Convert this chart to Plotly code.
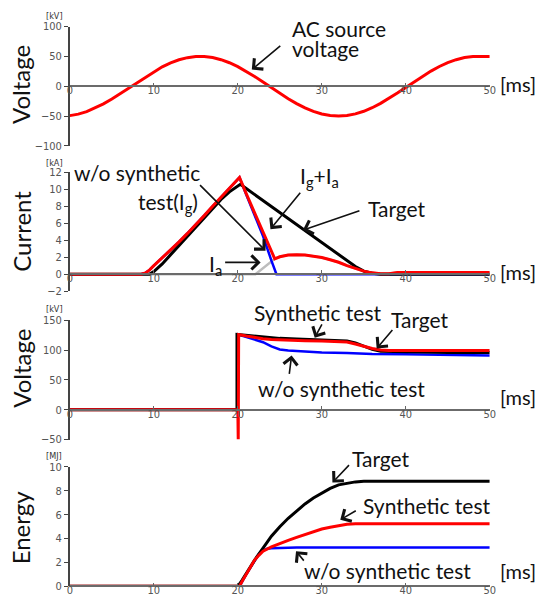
import plotly.graph_objects as go

# ---------------- data ----------------
# AC source voltage [kV] vs time [ms]
t_ac = list(range(0, 51))
v_ac = [-49.2, -46.7, -42.4, -36.6, -29.5, -21.3, -12.3, -2.9, 6.7, 15.9,
        24.6, 32.5, 39.1, 44.3, 47.9, 49.7, 49.8, 48.0, 44.5, 39.4,
        32.9, 25.1, 16.4, 7.1, -2.4, -11.8, -20.8, -29.0, -36.3, -42.1,
        -46.5, -49.1, -50.0, -49.0, -46.3, -41.9, -36.0, -28.7, -20.4, -11.4,
        -2.0, 7.6, 16.8, 25.4, 33.1, 39.6, 44.5, 48.0, 49.8, 50.0, 50.0]

# Arc current [kA]
t_i_target = [0, 9.5, 10, 11, 12, 13, 14, 15, 16, 17, 18, 19, 20, 20.3, 21, 22, 23, 24,
              25, 26, 27, 28, 29, 30, 31, 32, 33, 34, 35, 36, 37, 50]
i_target = [0, 0, 0.3, 1.2, 2.3, 3.4, 4.5, 5.6, 6.7, 7.8, 8.8, 9.7, 10.4, 10.6, 10.1, 9.4,
            8.6, 7.9, 7.2, 6.5, 5.8, 5.1, 4.4, 3.7, 3.0, 2.3, 1.6, 0.9, 0.35, 0.1, 0, 0]

t_i_synth = [0, 8.5, 9, 9.5, 10, 11, 12, 13, 14, 15, 16, 17, 18, 19, 20, 20.2, 21, 22, 23,
             24, 24.4, 25, 26, 27, 28, 29, 30, 31, 32, 33, 34, 35, 36, 37, 38, 39, 50]
i_synth = [0, 0, 0.15, 0.5, 1.0, 1.9, 2.9, 3.8, 4.8, 5.8, 6.9, 8.0, 9.1, 10.2, 11.2, 11.4,
           9.5, 7.2, 4.9, 2.6, 1.8, 2.05, 2.25, 2.3, 2.25, 2.1, 1.95, 1.7, 1.4, 1.0, 0.65,
           0.35, 0.15, 0.05, 0.05, 0.2, 0.2]

t_i_wo = [0, 8.5, 9, 9.5, 10, 11, 12, 13, 14, 15, 16, 17, 18, 19, 20, 20.2, 21, 22, 23,
          24, 24.6, 50]
i_wo = [0, 0, 0.15, 0.5, 1.0, 1.9, 2.9, 3.8, 4.8, 5.8, 6.9, 8.0, 9.1, 10.2, 11.2, 11.4,
        9.4, 7.0, 4.5, 1.6, 0, 0]

t_i_a = [0, 22.1, 24.4, 25, 26, 27, 28, 29, 30, 31, 32, 33, 34, 35, 36, 37, 38, 39, 50]
i_a = [0, 0, 1.8, 2.05, 2.25, 2.3, 2.25, 2.1, 1.95, 1.7, 1.4, 1.0, 0.65, 0.35, 0.15,
       0.05, 0.05, 0.2, 0.2]

# Arc voltage [kV]
t_u_target = [0, 19.9, 19.9, 21, 23, 25, 27, 29, 31, 33, 34, 35, 36, 37, 40, 45, 50]
u_target = [0, 0, 126, 124.5, 121, 119.5, 118.5, 117.5, 116.5, 115, 112, 107, 101, 98,
            97, 96, 96]

t_u_synth = [0, 20.0, 20.05, 20.1, 21, 22, 23, 24, 26, 28, 30, 32, 33, 34, 35, 36, 37,
             38, 50]
u_synth = [0, 0, -50, 126, 123.5, 121, 119, 117.5, 116, 115.5, 115, 114, 113.5, 110,
           106, 102.5, 100, 99, 99]

t_u_wo = [0, 20.0, 20.05, 21, 22, 23, 24, 25, 26, 27, 28, 30, 33, 36, 40, 45, 50]
u_wo = [0, 0, 126, 122, 118, 113, 106, 101, 99, 98, 97, 96, 95, 93.5, 93, 92, 91]

# Arc energy [MJ]
t_e_target = [0, 20, 20.5, 21, 21.5, 22, 23, 24, 25, 26, 27, 28, 29, 30, 31, 32, 33, 34,
              35, 50]
e_target = [0, 0, 0.5, 1.1, 1.6, 2.2, 3.2, 4.2, 5.0, 5.7, 6.3, 6.9, 7.4, 7.8, 8.2, 8.5,
            8.65, 8.75, 8.8, 8.8]

t_e_synth = [0, 20.2, 20.5, 21, 21.5, 22, 22.5, 23, 24, 25, 26, 27, 28, 29, 30, 31, 32,
             33, 34, 50]
e_synth = [0, 0, 0.4, 1.0, 1.6, 2.2, 2.6, 2.95, 3.3, 3.6, 3.85, 4.1, 4.35, 4.6, 4.8,
           4.95, 5.1, 5.2, 5.25, 5.25]

t_e_wo = [0, 20.2, 21, 22, 22.5, 23, 23.5, 24, 27, 50]
e_wo = [0, 0, 1.0, 2.2, 2.7, 3.0, 3.15, 3.2, 3.25, 3.25]

x_ticks = [0, 10, 20, 30, 40, 50]

# ---------------- layout helpers ----------------
W, H = 540, 610
RED, BLUE, BLACK, GRAY = "#ff0000", "#0000ff", "#000000", "#bdbdbd"
TEXT_FONT = "Lato, 'Open Sans', sans-serif"
TICK_FONT = "'DejaVu Sans Condensed', 'Liberation Sans Narrow', sans-serif"


def fx(x):
    return x / W


def fy(y):
    return 1 - y / H


X_DOMAIN = [fx(68), fx(495)]

# (top px, bottom px, y range, y tick step)
panels = [
    (21, 143, [-100, 100], 50),
    (170, 291.3, [-2, 12], 2),
    (321, 443, [-50, 150], 50),
    (471, 593, [0, 10], 2),
]

fig = go.Figure()


def add_line(x, y, color, width, idx):
    fig.add_trace(go.Scatter(x=x, y=y, mode="lines",
                             line=dict(color=color, width=width),
                             xaxis="x" if idx == 1 else f"x{idx}",
                             yaxis="y" if idx == 1 else f"y{idx}",
                             showlegend=False, hoverinfo="skip"))


add_line(t_ac, v_ac, RED, 3, 1)

add_line(t_i_a, i_a, GRAY, 2.5, 2)
add_line(t_i_wo, i_wo, BLUE, 2.5, 2)
add_line(t_i_target, i_target, BLACK, 3, 2)
add_line(t_i_synth, i_synth, RED, 3, 2)

add_line(t_u_wo, u_wo, BLUE, 2.5, 3)
add_line(t_u_target, u_target, BLACK, 3, 3)
add_line(t_u_synth, u_synth, RED, 3, 3)

add_line(t_e_wo, e_wo, BLUE, 2.5, 4)
add_line(t_e_target, e_target, BLACK, 3, 4)
add_line(t_e_synth, e_synth, RED, 3, 4)

layout_axes = {}
for i, (top, bot, yr, step) in enumerate(panels, start=1):
    dom = [fy(bot), fy(top)]
    zero_pos = dom[0] + (0 - yr[0]) / (yr[1] - yr[0]) * (dom[1] - dom[0])
    xname = "xaxis" if i == 1 else f"xaxis{i}"
    yname = "yaxis" if i == 1 else f"yaxis{i}"
    layout_axes[xname] = dict(
        domain=X_DOMAIN, range=[0, 50], anchor="free", position=zero_pos,
        tickvals=x_ticks, ticks="inside", ticklen=3, tickcolor="#666",
        showline=True, linecolor="#6b6b6b", linewidth=1.5,
        showgrid=False, zeroline=False, ticklabelstandoff=-6,
        tickfont=dict(family=TICK_FONT, size=11, color="#555"),
    )
    yt = list(range(yr[0], yr[1] + 1, step))
    layout_axes[yname] = dict(
        domain=dom, range=yr, anchor="x" if i == 1 else f"x{i}",
        tickvals=yt, ticks="outside", ticklen=4, tickcolor="#444",
        showline=True, linecolor="#444", linewidth=1.5,
        showgrid=False, zeroline=False,
        tickfont=dict(family=TICK_FONT, size=11, color="#555"),
    )

annotations = []


def label(text, x, y, size=21, xanchor="center", color="#111", angle=0, family=TEXT_FONT):
    annotations.append(dict(text=text, x=fx(x), y=fy(y), xref="paper", yref="paper",
                            xanchor=xanchor, yanchor="middle", showarrow=False,
                            textangle=angle,
                            font=dict(family=family, size=size, color=color)))


def arrow(tail, tip):
    annotations.append(dict(text="", x=fx(tip[0]), y=fy(tip[1]), xref="paper", yref="paper",
                            ax=tail[0] - tip[0], ay=tail[1] - tip[1],
                            showarrow=True, arrowhead=4, arrowsize=1.7, arrowwidth=1.6,
                            arrowcolor="#111"))


# axis titles and units
for txt, yc in [("Voltage", 80), ("Current", 230), ("Voltage", 370), ("Energy", 533)]:
    label(txt, 18, yc, size=24, angle=-90)
for txt, yc in [("[kV]", 10), ("[kA]", 160), ("[kV]", 310), ("[MJ]", 460)]:
    label(txt, 42, yc, size=9, xanchor="left", color="#333", family=TICK_FONT)
for yc in [80, 272, 400, 577]:
    label("[ms]", 503, yc, size=20, xanchor="left")

# panel 1
label("AC source", 292, 23, xanchor="left")
label("voltage", 292, 43, xanchor="left")
arrow((283, 40), (253, 65))

# panel 2
label("w/o synthetic", 202, 170, xanchor="right")
label("test(I<sub>g</sub>)", 200, 201, xanchor="right")
arrow((200, 183), (267, 250))
label("I<sub>g</sub>+I<sub>a</sub>", 322, 175)
arrow((303, 190), (272, 228))
label("Target", 401, 207)
arrow((363, 209), (305, 229))
label("I<sub>a</sub>", 216, 265)
arrow((225, 262), (262, 262))

# panel 3
label("Synthetic test", 320, 313)
arrow((325, 324), (317, 339))
label("Target", 424, 320)
arrow((397, 330), (380, 350))
label("w/o synthetic test", 344, 391)
arrow((291, 377), (293.5, 357))

# panel 4
label("Target", 384, 462)
arrow((353, 468), (335, 487))
label("Synthetic test", 431, 510)
arrow((360, 515), (343, 525))
label("w/o synthetic test", 391, 577)
arrow((307, 568), (298, 557))

fig.update_layout(
    width=W, height=H, margin=dict(l=0, r=0, t=0, b=0),
    paper_bgcolor="white", plot_bgcolor="white",
    showlegend=False, annotations=annotations, **layout_axes,
)

fig.write_html("out.html")
